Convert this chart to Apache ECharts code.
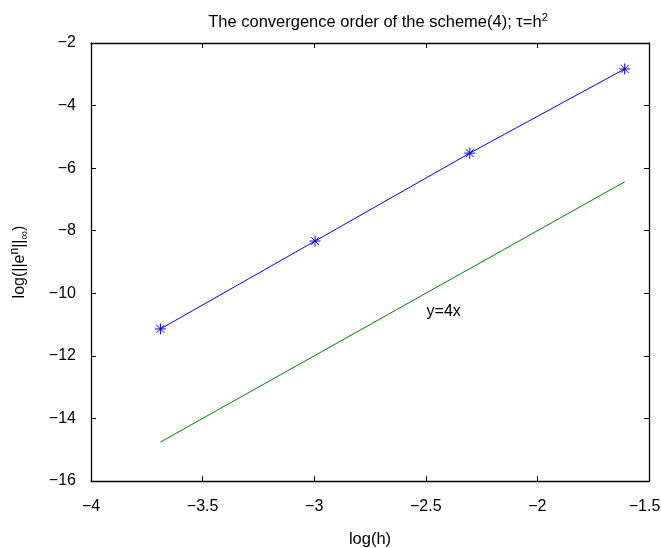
<!DOCTYPE html>
<html>
<head>
<meta charset="utf-8">
<script src="https://cdn.jsdelivr.net/npm/echarts@6/dist/echarts.min.js"></script>
<style>
    html, body { margin: 0; padding: 0; background: #fff; }
    #chart { width: 661px; height: 548px; }
</style>
</head>
<body>
<div id="chart"></div>
<script>
(function(){

    // log(h) for h = 1/40, 1/20, 1/10, 1/5
    let logH = [-3.689, -2.996, -2.303, -1.609];
    // log of the max error
    let logErr = [-11.14, -8.33, -5.52, -2.83];
    // reference line y = 4x
    let refX = [-3.689, -1.609];
    let refY = [-14.756, -6.436];
    let refLabel = 'y=4x';
    let refLabelAt = [-2.42, -10.6];

    let fontName = '"Liberation Sans", Arial, sans-serif';
    let minus = function(v){ return String(v).replace('-', '\u2212'); };
    // last x label sits at the window edge: pad it so it stays inside
    let xMinus = function(v){
        return v === -1.5 ? '{edge|' + minus(v) + '}' : minus(v);
    };

    let asterisk = 'path://M0,-5L0,5M-5,0L5,0M-3.6,-3.6L3.6,3.6M-3.6,3.6L3.6,-3.6';

    let mirrorAxis = {
        axisLine: { show: true, lineStyle: { color: '#000', width: 1.3 } },
        axisTick: { show: true, inside: true, length: 5, lineStyle: { color: '#000' } },
        axisLabel: { show: false },
        splitLine: { show: false }
    };

    let chart = echarts.init(document.getElementById('chart'));
    chart.setOption({
        animation: false,
        title: {
            text: 'The convergence order of the scheme(4); \u03c4=h{sup|2}',
            left: 373,
            textAlign: 'center',
            top: 7,
            textStyle: {
                fontFamily: fontName, fontSize: 16.5, fontWeight: 'normal', color: '#000',
                rich: { sup: { fontSize: 11, verticalAlign: 'top', padding: [0, 0, 10, 0], fontFamily: fontName, color: '#000' } }
            }
        },
        grid: { left: 91, right: 12, top: 43, bottom: 67, containLabel: false, outerBoundsMode: 'none' },
        xAxis: [
            {
                type: 'value', min: -4, max: -1.5, interval: 0.5,
                name: 'log(h)', nameLocation: 'middle', nameGap: 50,
                nameTextStyle: { fontFamily: fontName, fontSize: 16.5, color: '#000' },
                axisLine: { show: true, onZero: false, lineStyle: { color: '#000', width: 1.3 } },
                axisTick: { show: true, inside: true, length: 5, lineStyle: { color: '#000' } },
                axisLabel: {
                    formatter: xMinus, margin: 18, fontFamily: fontName, fontSize: 16, color: '#000',
                    rich: { edge: { fontFamily: fontName, fontSize: 16, color: '#000', padding: [0, 9, 0, 0] } }
                },
                splitLine: { show: false }
            },
            Object.assign({ type: 'value', position: 'top', min: -4, max: -1.5, interval: 0.5 }, mirrorAxis)
        ],
        yAxis: [
            {
                type: 'value', min: -16, max: -2, interval: 2,
                name: 'log(||e{sup|n}||{sub|\u221e})', nameLocation: 'middle', nameGap: 60, nameRotate: 90,
                nameTextStyle: {
                    fontFamily: fontName, fontSize: 16, color: '#000',
                    rich: {
                        sup: { fontSize: 12, verticalAlign: 'top', padding: [0, 0, 10, 0], fontFamily: fontName, color: '#000' },
                        sub: { fontSize: 12, verticalAlign: 'bottom', padding: [10, 0, 0, 0], fontFamily: fontName, color: '#000' }
                    }
                },
                axisLine: { show: true, onZero: false, lineStyle: { color: '#000', width: 1.3 } },
                axisTick: { show: true, inside: true, length: 5, lineStyle: { color: '#000' } },
                axisLabel: { formatter: minus, margin: 15, fontFamily: fontName, fontSize: 16, color: '#000' },
                splitLine: { show: false }
            },
            Object.assign({ type: 'value', position: 'right', min: -16, max: -2, interval: 2 }, mirrorAxis)
        ],
        series: [
            {
                type: 'line',
                data: logH.map((x, i) => [x, logErr[i]]),
                symbol: asterisk,
                symbolSize: 11,
                showAllSymbol: true,
                lineStyle: { color: '#0000ff', width: 1 },
                itemStyle: { color: 'none', borderColor: '#0000ff', borderWidth: 1 },
                z: 3
            },
            {
                type: 'line',
                data: refX.map((x, i) => [x, refY[i]]),
                symbol: 'none',
                lineStyle: { color: '#008000', width: 1 },
                markPoint: {
                    symbol: 'circle', symbolSize: 1,
                    itemStyle: { color: 'rgba(0,0,0,0)' },
                    label: { show: true, formatter: refLabel, position: 'inside', fontFamily: fontName, fontSize: 16, color: '#000' },
                    data: [{ coord: refLabelAt }]
                }
            }
        ]
    });
})();
</script>
</body>
</html>
